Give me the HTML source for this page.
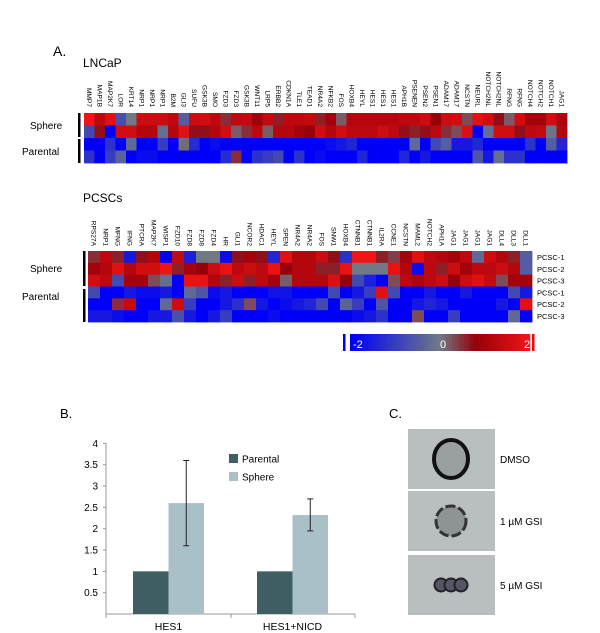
<!DOCTYPE html>
<html><head><meta charset="utf-8"><style>
body{margin:0;background:#fff;}
svg{display:block;font-family:"Liberation Sans",sans-serif;}
</style></head><body>
<svg id="fig" width="600" height="633">
<text x="53" y="56" font-size="14">A.</text>
<text x="83" y="67" font-size="12">LNCaP</text>
<text x="83" y="202" font-size="12">PCSCs</text>
<text x="60" y="418" font-size="13">B.</text>
<text x="389" y="418" font-size="13">C.</text>
<g id="hm1"></g>
<g id="hm2"></g>
<g id="cbar"></g>
<g id="bars"></g>
<g id="photos"></g>
</svg>
<script>
const lncapGenes=["MMP7","MAP1B","MAP2K7","LOR","KRT14","NRP1","NRP1","NRP1","B2M","GLI3","SUFU","GSK3B","SMO","FZD3","FZD3","GSK3B","WNT11","LRP5","ERBB2","CDKN1A","TLE1","TEAD1","NR4A2","NFKB2","FOS","HOXB4","HEYL","HES1","HES1","HES1","APH1B","PSENEN","PSEN2","PSEN1","ADAM17","ADAM17","NCSTN","NEURL","NOTCH2NL","NOTCH2NL","RFNG","RFNG","NOTCH4","NOTCH2","NOTCH1","JAG1"];
const lncapSphere1=[2,1.3,1.8,-0.7,0,1.5,1.5,1.5,1.3,-0.5,1.5,1.6,1.3,0.5,1.3,1.4,0.9,1.4,0.6,1.3,1.3,1.4,0.6,1.0,0.2,1.2,1.2,1.2,1.2,1.2,1.3,1.3,1.5,0.8,1.5,1.6,0.3,1.8,1.6,0.7,0.2,1.6,1.0,1.0,1.6,1.1];
const lncapSphere2=[-0.8,0.7,-2,1.6,1.6,1.2,1.2,-0.2,1.2,1.8,0.7,0.7,1.2,1.6,0.2,0.5,1.3,0.2,1.2,1.2,1.0,0.8,1.6,1.2,1.6,1.3,1.3,1.3,1.5,1.3,0.7,0.6,0.7,1.3,0.5,0.3,1.7,-2,-0.2,1.6,1.6,0.7,1.3,1.4,-0.1,1.2];
const lncapParental1=[-2,-2,-1.2,-2,-0.3,-2,-2,-1.0,-2,0.1,-1.3,-2,-1.8,-2,-2,-2,-2,-2,-2,-2,-2,-2,-2,-1.8,-1.6,-1.4,-2,-2,-2,-2,-2,-0.3,-2,-0.8,-0.5,-1.6,-1.6,-1.4,-2,-2,-2,-2,-1.2,-2,-0.5,-1.4];
const lncapParental2=[-1.2,-2,-1.0,-0.4,-2,-1.8,-1.8,-2,-2,-2,-2,-2,-2,-1.3,0.5,-2,-1.2,-1.0,-0.8,-2,-1.2,-2,-1.8,-2,-2,-2,-1.4,-2,-2,-2,-1.4,-2,-1.6,-2,-2,-2,-2,-0.6,-1.6,-0.2,-1.2,-1.2,-2,-2,-2,-2];
const pcscGenes=["RPS27A","NRP1","MFNG","IFNG","PTCRA","MAP2K7","WISP1","FZD10","FZD8","FZD8","FZD4","HR","GLI1","NCOR2","HDAC1","HEYL","SPEN","NR4A2","NR4A2","FOS","SNW1","HOXB4","CTNNB1","CTNNB1","IL2RA","CCNE1","NCSTN","MAML2","NOTCH2","APH1A","JAG1","JAG1","JAG1","JAG1","DLL4","DLL3","DLL1"];
const pcscSphere1=[0.5,1.3,0.6,-1.6,0.7,1.2,-2,1.4,-1.5,0,0,-1.8,0.7,1.0,0.7,-1.4,1.8,1.2,1.2,1.5,0.7,-1.2,2,2,0.6,0.4,1.0,1.8,1.3,1.2,1.0,1.3,-0.3,1.5,1.2,0.6,-0.5];
const pcscSphere2=[1.0,1.2,1.8,1.2,1.6,1.6,2.0,0.6,1.0,0.8,1.5,1.9,1.3,1.5,1.3,1.9,0.8,1.2,1.2,0.6,0.6,1.9,0,0,0,1.9,1.2,-1.8,1.3,0.6,1.5,1.0,1.3,1.3,1.5,1.2,-0.5];
const pcscSphere3=[1.6,1.3,-0.8,1.0,1.0,0.3,-0.2,-2,1.9,1.9,1.2,0.6,1.5,0.6,1.3,1.0,0.2,1.2,1.2,1.2,1.7,0.8,-0.8,-1.5,-2,0.3,1.3,1.1,1.3,1.5,0.8,1.5,1.8,1.4,0.3,1.0,1.0];
const pcscParental1=[-0.8,-2,-2,-1.6,-1.8,-1.8,-1.6,-2,-0.3,-0.6,-1.8,-1.6,-2,-2,-2,-1.7,-1.7,-2,-2,-2,-0.8,-2,-1.6,-1.0,1.8,-0.8,-2,-2,-1.6,-2,-2,-1.6,-2,-2,-2,-0.8,-1.6];
const pcscParental2=[-2,-2,0.5,1.4,-2,-2,-0.3,1.5,-1.0,-2,-2,-1.6,-1.2,0.3,-1.6,-2,-1.8,-1.6,-1.4,-0.8,-2,-0.4,-1.0,-2,-0.6,-2,-2,-1.6,-1.4,-1.6,-2,-2,-2,-2,-1.6,-2,1.8];
const pcscParental3=[-1.6,-1.6,-1.8,-2,-2,-1.6,-1.6,-0.7,-1.6,-2,-1.6,-1.0,-2,-2,-2,-1.8,-2,-2,-2,-2,-2,-2,-1.8,-1.6,-1.2,-2,-2,0.3,-2,-2,-1.0,-2,-2,-2,-2,-0.3,-2];
const pcscRowLabels=["PCSC-1","PCSC-2","PCSC-3","PCSC-1","PCSC-2","PCSC-3"];
const barCategories=["HES1","HES1+NICD"];
const parentalValues=[1,1];
const sphereValues=[2.6,2.32];
const sphereErrLow=[1.6,1.95];
const sphereErrHigh=[3.6,2.7];
const yTicks=[0.5,1,1.5,2,2.5,3,3.5,4];
const yTickLabels=["0.5","1","1.5","2","2.5","3","3.5","4"];
const photoLabels=["DMSO","1 \u00b5M GSI","5 \u00b5M  GSI"];

const NS="http://www.w3.org/2000/svg";
function mk(tag,attrs,parent){const e=document.createElementNS(NS,tag);for(const k in attrs)e.setAttribute(k,attrs[k]);parent.appendChild(e);return e;}
function lerp(a,b,t){return a.map((v,i)=>Math.round(v+(b[i]-v)*t));}
function color(v){
  v=Math.max(-2,Math.min(2,v));
  const blue=[0,0,250],gray=[112,122,132],dred=[150,0,10],red=[240,20,20];
  let c;
  if(v<0)c=lerp(gray,blue,-v/2);
  else if(v<0.8)c=lerp(gray,dred,v/0.8);
  else c=lerp(dred,red,(v-0.8)/1.2);
  return "rgb("+c.join(",")+")";
}
function heatmap(g,genes,rows,x0,x1,y0,y1,labelBottom){
  const cw=(x1-x0)/genes.length,rh=(y1-y0)/rows.length;
  genes.forEach((gname,i)=>{
    const t=mk("text",{x:0,y:0,"font-size":6.6,"text-anchor":"end",transform:`translate(${x0+cw*i+cw/2-2.3},${labelBottom}) rotate(90)`},g);
    
    
    t.textContent=gname;
  });
  rows.forEach((row,r)=>row.forEach((v,i)=>{
    const c=mk("rect",{x:x0+cw*i,y:y0+rh*r,width:cw+0.4,height:rh+0.4,fill:color(v)},g);
    
    
  }));
}
const hm1=document.getElementById("hm1");
heatmap(hm1,lncapGenes,[lncapSphere1,lncapSphere2,lncapParental1,lncapParental2],84,567,113,163,107);
const hm2=document.getElementById("hm2");
heatmap(hm2,pcscGenes,[pcscSphere1,pcscSphere2,pcscSphere3,pcscParental1,pcscParental2,pcscParental3],88,532,251,322,246);
// group brackets
[[hm1,78,113,137,"Sphere",30,129],[hm1,78,139,163,"Parental",22,155],[hm2,83,251,286,"Sphere",30,272],[hm2,83,289,322,"Parental",22,300]].forEach(b=>{
  const r=mk("rect",{x:b[1],y:b[2],width:2.5,height:b[3]-b[2],fill:"#000"},b[0]);
  
  
  const t=mk("text",{x:b[5],y:b[6],"font-size":10},b[0]);
  
  
  t.textContent=b[4];
});
pcscRowLabels.forEach((l,i)=>{
  const t=mk("text",{x:537,y:251+11.8*i+9,"font-size":7.5},hm2);
  
  
  t.textContent=l;
});
// colorbar
const cb=document.getElementById("cbar");
for(let i=0;i<60;i++){
  const v=-2+4*i/59;
  const r=mk("rect",{x:350+i*(180/60),y:334,width:3.3,height:17,fill:color(v)},cb);
  
  
}
mk("rect",{x:343,y:334,width:2.5,height:17,fill:"#0000ff"},cb);
mk("rect",{x:532,y:334,width:2.5,height:17,fill:"#ff0000"},cb);
[["-2",353],["0",440],["2",524]].forEach(p=>{const t=mk("text",{x:p[1],y:348,"font-size":11,fill:"#fff"},cb);t.textContent=p[0];});

// bar chart
const bg=document.getElementById("bars");
const yS=v=>614-v*42.65;
const xAxisL=106,xAxisR=355,bw=35.5;
const groupStart=[133,257];
mk("line",{x1:xAxisL,y1:443,x2:xAxisL,y2:614,stroke:"#999"},bg);
mk("line",{x1:xAxisL,y1:614,x2:xAxisR,y2:614,stroke:"#999"},bg);
[xAxisL,231,xAxisR].forEach(x=>mk("line",{x1:x,y1:614,x2:x,y2:618,stroke:"#999"},bg));
yTicks.forEach((v,i)=>{
  mk("line",{x1:xAxisL-3,y1:yS(v),x2:xAxisL,y2:yS(v),stroke:"#999"},bg);
  const t=mk("text",{x:xAxisL-8,y:yS(v)+3.5,"font-size":10,"text-anchor":"end"},bg);
  
  
  t.textContent=yTickLabels[i];
});
barCategories.forEach((c,i)=>{
  const x=groupStart[i];
  const p=mk("rect",{x:x,y:yS(parentalValues[i]),width:bw,height:yS(0)-yS(parentalValues[i]),fill:"#3f5f64"},bg);
  
  
  const s=mk("rect",{x:x+bw,y:yS(sphereValues[i]),width:bw,height:yS(0)-yS(sphereValues[i]),fill:"#a9c0c8"},bg);
  
  
  const cx=x+bw*1.5;
  const e=mk("path",{d:`M${cx},${yS(sphereErrLow[i])}V${yS(sphereErrHigh[i])}M${cx-3},${yS(sphereErrLow[i])}h6M${cx-3},${yS(sphereErrHigh[i])}h6`,stroke:"#222","stroke-width":1,fill:"none"},bg);
  
  
  const t=mk("text",{x:x+bw,y:630,"font-size":10.5,"text-anchor":"middle"},bg);
  
  
  t.textContent=c;
});
[["Parental","#3f5f64",454],["Sphere","#a9c0c8",472]].forEach(l=>{
  const r=mk("rect",{x:229,y:l[2],width:9,height:9,fill:l[1]},bg);
  
  
  const t=mk("text",{x:242,y:l[2]+8.5,"font-size":10},bg);
  
  
  t.textContent=l[0];
});
// photos
const pg=document.getElementById("photos");
const py=[429,491,555];
py.forEach((y,i)=>{
  const r=mk("rect",{x:408,y:y,width:87,height:60,fill:"#b9bfbf"},pg);
  
  
  const cx=451,cy=y+30;
  if(i===0){mk("ellipse",{cx:cx,cy:cy,rx:17,ry:19,fill:"#9aa0a0",stroke:"#111","stroke-width":4},pg);}
  else if(i===1){mk("circle",{cx:cx,cy:cy,r:15,fill:"#8e9494",stroke:"#333","stroke-width":3,"stroke-dasharray":"10 3"},pg);}
  else{[-10,0,10].forEach(d=>mk("circle",{cx:cx+d,cy:cy,r:6.5,fill:"#556","stroke":"#222","stroke-width":2},pg));}
  const t=mk("text",{x:500,y:cy+4,"font-size":10},pg);
  
  
  t.textContent=photoLabels[i];
});
</script>
</body></html>
